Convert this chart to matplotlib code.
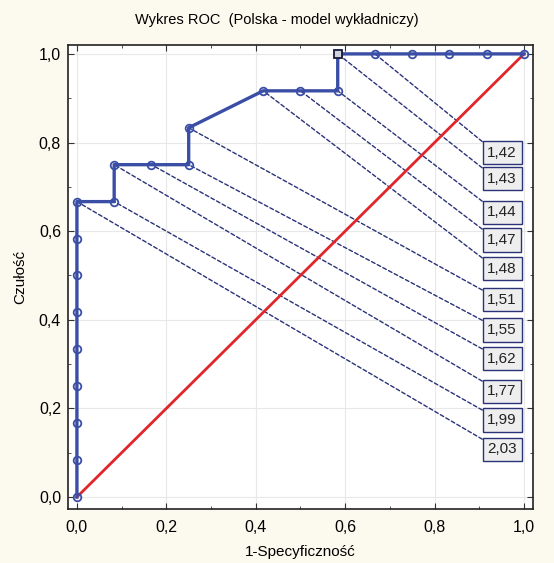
import matplotlib
matplotlib.use('Agg')
import matplotlib.pyplot as plt
from matplotlib.ticker import MultipleLocator, FuncFormatter

plt.rcParams['font.family'] = ['Liberation Sans', 'DejaVu Sans']

# ── dane krzywej ROC ─────────────────────────────────────────
fpr = [0, 0, 0, 0, 0, 0, 0, 0, 0, 1/12, 1/12, 2/12, 3/12, 3/12,
       5/12, 6/12, 7/12, 7/12, 8/12, 9/12, 10/12, 11/12, 1]
tpr = [0, 1/12, 2/12, 3/12, 4/12, 5/12, 6/12, 7/12, 8/12, 8/12, 9/12, 9/12, 9/12, 10/12,
       11/12, 11/12, 11/12, 1, 1, 1, 1, 1, 1]
cut_idx = 17  # punkt odcięcia (kwadrat)

# progi i punkty, z których wychodzą linie opisu
thr_labels = ['1,42', '1,43', '1,44', '1,47', '1,48', '1,51',
              '1,55', '1,62', '1,77', '1,99', '2,03']
thr_x = [8/12, 7/12, 7/12, 6/12, 5/12, 3/12, 3/12, 2/12, 1/12, 1/12, 0]
thr_y = [1, 1, 11/12, 11/12, 11/12, 10/12, 9/12, 9/12, 9/12, 8/12, 8/12]
lab_y = [0.777, 0.718, 0.643, 0.580, 0.515, 0.445, 0.377, 0.312, 0.239, 0.174, 0.108]

BLUE = '#3a4ea6'
NAVY = '#2a3278'
RED = '#e0262b'
BG = '#fcf9ee'

fig = plt.figure(figsize=(5.54, 5.63), dpi=100, facecolor=BG)
ax = fig.add_axes([0.1227, 0.0959, 0.8393, 0.8241])
ax.set_facecolor('white')

ax.plot([0, 1], [0, 1], color=RED, lw=2, zorder=3)
ax.plot(fpr, tpr, color=BLUE, lw=2.4, marker='o', ms=5.5, mfc='none',
        mec=BLUE, mew=1.3, zorder=4)
ax.plot(fpr[cut_idx], tpr[cut_idx], marker='s', ms=5.5, mfc='#cfd3e0',
        mec='#1a1a3a', mew=1.3, zorder=5)

for lab, x0, y0, ly in zip(thr_labels, thr_x, thr_y, lab_y):
    ax.annotate(lab, xy=(x0, y0), xytext=(0.918, ly), textcoords='data',
                ha='left', va='center', fontsize=11, color='#222222',
                bbox=dict(boxstyle='square,pad=0.3', fc='#eeeeee', ec=NAVY, lw=1),
                arrowprops=dict(arrowstyle='-', color=NAVY, lw=1,
                                linestyle=(0, (2.8, 1.8)), shrinkA=0, shrinkB=0,
                                relpos=(0, 1)),
                zorder=2)

ax.set_xlim(-0.020, 1.020)
ax.set_ylim(-0.027, 1.020)
ax.xaxis.set_major_locator(MultipleLocator(0.2))
ax.yaxis.set_major_locator(MultipleLocator(0.2))
ax.xaxis.set_minor_locator(MultipleLocator(0.1))
ax.yaxis.set_minor_locator(MultipleLocator(0.1))
fmt = FuncFormatter(lambda v, p: f'{v:.1f}'.replace('.', ','))
ax.xaxis.set_major_formatter(fmt)
ax.yaxis.set_major_formatter(fmt)
ax.tick_params(which='both', direction='in', top=True, right=True,
               labelsize=11.5, color='#333333')
ax.tick_params(which='major', length=4)
ax.tick_params(which='minor', length=2.5)
ax.tick_params(axis='x', pad=8)
ax.tick_params(axis='y', pad=5)
ax.grid(True, which='major', color='#e8e8e8', lw=0.8, zorder=0)
ax.set_axisbelow(True)
for s in ax.spines.values():
    s.set_color('#222222')
    s.set_linewidth(1.2)

fig.text(0.5, 1 - 20 / 563, 'Wykres ROC  (Polska - model wykładniczy)',
         ha='center', va='center', fontsize=10.5)
ax.set_xlabel('1-Specyficzność', fontsize=11, labelpad=7)
ax.set_ylabel('Czułość', fontsize=11, labelpad=8)

fig.savefig('out.png', dpi=100, facecolor=fig.get_facecolor())
